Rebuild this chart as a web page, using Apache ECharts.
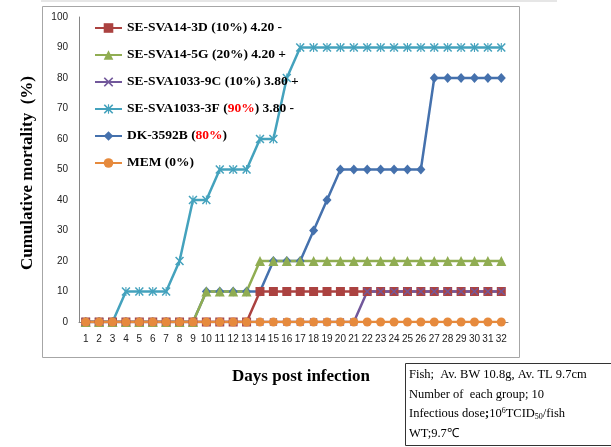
<!DOCTYPE html>
<html>
<head>
<meta charset="utf-8">
<script src="https://cdn.jsdelivr.net/npm/echarts@6/dist/echarts.min.js"></script>
<style>
  html, body { margin: 0; padding: 0; background: #fff; }
  #chart { width: 611px; height: 447px; }
</style>
</head>
<body>
<div id="chart"></div>
<script>
const days = [];
for (let d = 1; d <= 32; d++) days.push(String(d));

// cumulative mortality (%) per day
const sva14_3d = [0,0,0,0,0,0,0,0,0,0,0,0,0,10,10,10,10,10,10,10,10,10,10,10,10,10,10,10,10,10,10,10];
const sva14_5g = [0,0,0,0,0,0,0,0,0,10,10,10,10,20,20,20,20,20,20,20,20,20,20,20,20,20,20,20,20,20,20,20];
const sva1033_9c = [0,0,0,0,0,0,0,0,0,0,0,0,0,0,0,0,0,0,0,0,0,10,10,10,10,10,10,10,10,10,10,10];
const sva1033_3f = [0,0,0,10,10,10,10,20,40,40,50,50,50,60,60,80,90,90,90,90,90,90,90,90,90,90,90,90,90,90,90,90];
const dk3592b = [0,0,0,0,0,0,0,0,0,10,10,10,10,10,20,20,20,30,40,50,50,50,50,50,50,50,80,80,80,80,80,80];
const mem = [0,0,0,0,0,0,0,0,0,0,0,0,0,0,0,0,0,0,0,0,0,0,0,0,0,0,0,0,0,0,0,0];

const names = [
  'SE-SVA14-3D (10%) 4.20 -',
  'SE-SVA14-5G (20%) 4.20 +',
  'SE-SVA1033-9C (10%) 3.80 +',
  'SE-SVA1033-3F (90%) 3.80 -',
  'DK-3592B (80%)',
  'MEM (0%)'
];

const serif = 'Liberation Serif, Times New Roman, serif';
const xMark = 'path://M0,1.2 L1.2,0 L5,3.8 L8.8,0 L10,1.2 L6.2,5 L10,8.8 L8.8,10 L5,6.2 L1.2,10 L0,8.8 L3.8,5 Z';
const starMark = 'path://M0,1.2 L1.2,0 L5,3.8 L8.8,0 L10,1.2 L6.2,5 L10,8.8 L8.8,10 L5,6.2 L1.2,10 L0,8.8 L3.8,5 Z M4.4,0 L5.6,0 L5.6,10 L4.4,10 Z';

function line(name, data, color, symbol, size) {
  return {
    name: name,
    type: 'line',
    data: data,
    symbol: symbol,
    symbolSize: size,
    lineStyle: { color: color, width: 2.5 },
    itemStyle: { color: color },
    animation: false
  };
}

const chart = echarts.init(document.getElementById('chart'));
chart.setOption({
  backgroundColor: '#fff',
  grid: { left: 79, right: 103, top: 17, bottom: 125 },
  legend: {
    data: names,
    orient: 'vertical',
    left: 94,
    top: 21,
    itemWidth: 27,
    itemHeight: 12,
    itemGap: 13,
    padding: 0,
    selectedMode: false,
    formatter: n => n.replace('90%', '{r|90%}').replace('80%', '{r|80%}'),
    textStyle: {
      fontFamily: serif, fontWeight: 'bold', fontSize: 13.5, color: '#000',
      rich: { r: { fontFamily: serif, fontWeight: 'bold', fontSize: 13.5, color: '#ff0000' } }
    }
  },
  xAxis: {
    type: 'category',
    data: days,
    boundaryGap: true,
    axisLine: { lineStyle: { color: '#868686' } },
    axisTick: { show: false },
    axisLabel: { interval: 0, margin: 12, fontSize: 10, fontFamily: 'Liberation Sans, Arial, sans-serif', color: '#222' }
  },
  yAxis: {
    type: 'value',
    min: 0, max: 100, interval: 10,
    axisLine: { show: true, lineStyle: { color: '#868686' } },
    axisTick: { show: false },
    splitLine: { show: false },
    axisLabel: { margin: 11, fontSize: 10, fontFamily: 'Liberation Sans, Arial, sans-serif', color: '#222' }
  },
  series: [
    line(names[3], sva1033_3f, '#44a2bd', starMark, 9),
    line(names[4], dk3592b, '#4571ad', 'diamond', [9, 10]),
    line(names[0], sva14_3d, '#ab4240', 'rect', 9),
    line(names[1], sva14_5g, '#90ad52', 'triangle', 10),
    line(names[2], sva1033_9c, '#72589b', xMark, 8),
    line(names[5], mem, '#e68a3d', 'circle', 9)
  ],
  graphic: [
    { type: 'rect', left: 41, top: 0, shape: { width: 516, height: 2 }, style: { fill: '#e6e6e6' }, silent: true },
    { type: 'rect', shape: { x: 42.5, y: 6.5, width: 477, height: 351 }, style: { fill: 'none', stroke: '#a6a6a6', lineWidth: 1 }, z: -1, silent: true },
    {
      type: 'text', x: 28, y: 173, rotation: Math.PI / 2,
      style: { text: 'Cumulative mortality  (%)', font: 'bold 17px ' + serif, fill: '#000', align: 'center', verticalAlign: 'middle' }
    },
    {
      type: 'text', x: 301, y: 377,
      style: { text: 'Days post infection', font: 'bold 17px ' + serif, fill: '#000', align: 'center', verticalAlign: 'middle' }
    },
    { type: 'rect', shape: { x: 405.5, y: 363.5, width: 215, height: 82 }, style: { fill: '#fff', stroke: '#333', lineWidth: 1 }, silent: true },
    {
      type: 'text', x: 409, y: 365,
      style: {
        text: '{n|Fish;  Av. BW 10.8g, Av. TL 9.7cm}\n{n|Number of  each group; 10}\n{n|Infectious dose}{bd|;}{n|10}{sup|6}{n|TCID}{sub|50}{n|/fish}\n{n|WT;9.7\u2103}',
        fill: '#000',
        rich: {
          n: { font: '12.5px ' + serif, lineHeight: 19.5 },
          bd: { font: 'bold 12.5px ' + serif, lineHeight: 19.5 },
          sup: { font: '8px ' + serif, lineHeight: 19.5, verticalAlign: 'top', padding: [3, 0, 0, 0] },
          sub: { font: '8px ' + serif, lineHeight: 19.5, verticalAlign: 'bottom', padding: [0, 0, 3, 0] }
        }
      }
    }
  ]
});
</script>
</body>
</html>
